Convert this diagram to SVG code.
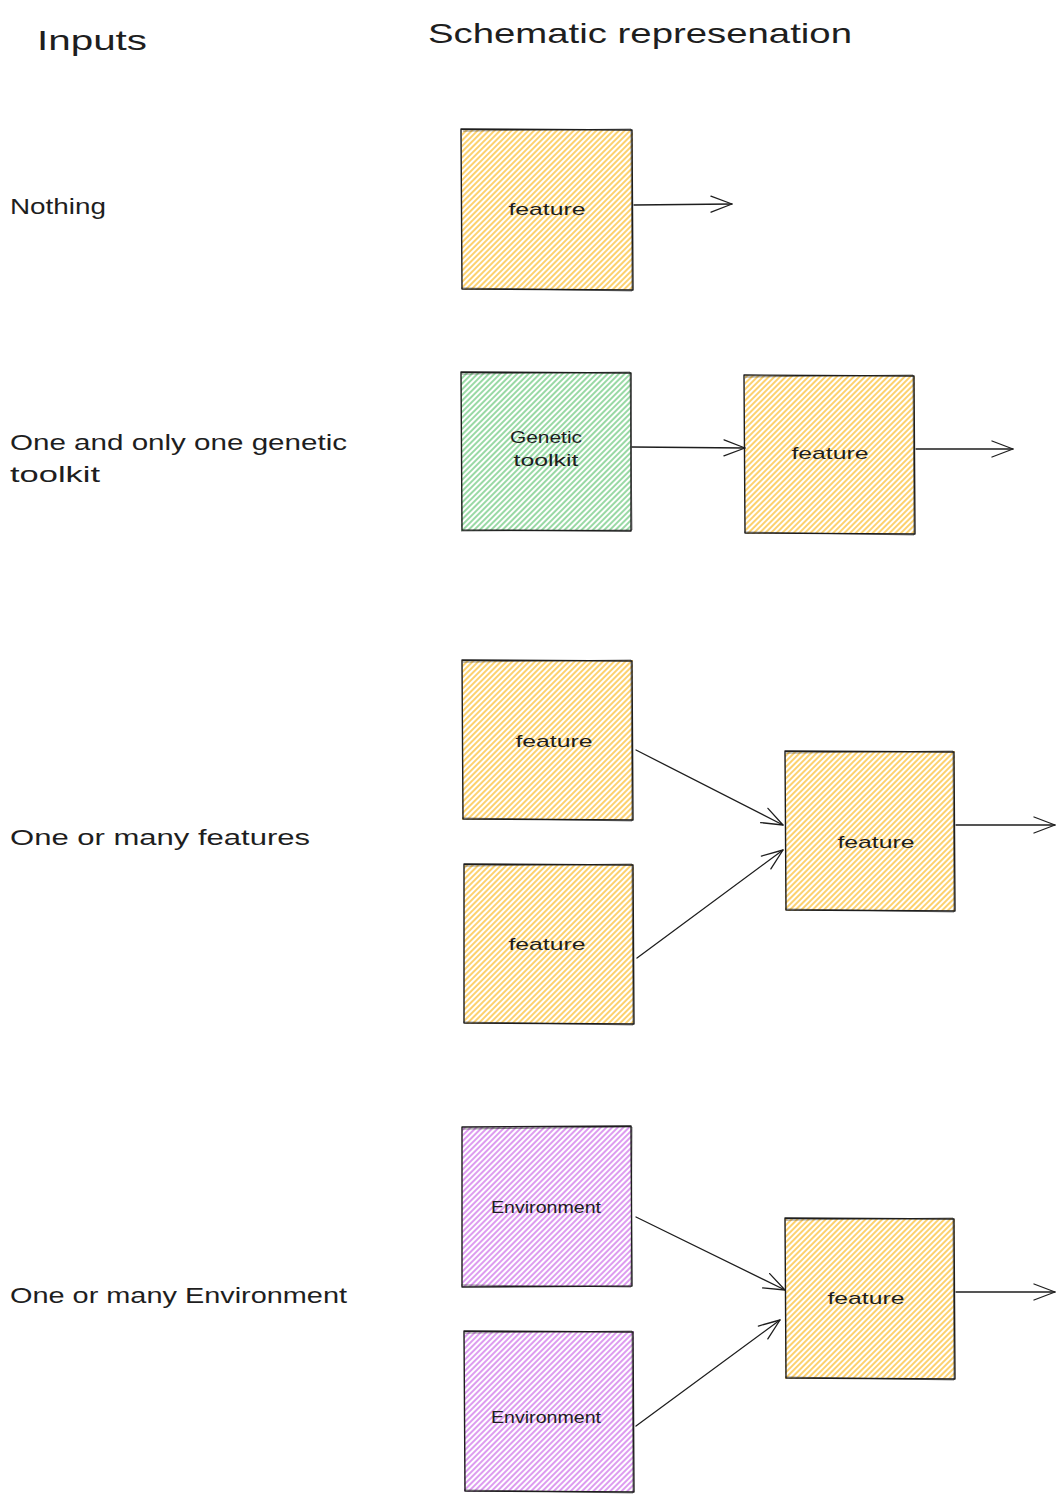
<svg xmlns="http://www.w3.org/2000/svg" width="1064" height="1500" viewBox="0 0 1064 1500">
  <defs>
    <!-- hachure fills, one per colour -->
    <pattern id="hatch-yellow" patternUnits="userSpaceOnUse" width="4" height="4" patternTransform="rotate(-45)">
      <line x1="0" y1="2" x2="4" y2="2" stroke="#fbc54a" stroke-width="1.6"/>
    </pattern>
    <pattern id="hatch-green" patternUnits="userSpaceOnUse" width="4" height="4" patternTransform="rotate(-45)">
      <line x1="0" y1="2" x2="4" y2="2" stroke="#7fd08e" stroke-width="1.6"/>
    </pattern>
    <pattern id="hatch-purple" patternUnits="userSpaceOnUse" width="4" height="4" patternTransform="rotate(-45)">
      <line x1="0" y1="2" x2="4" y2="2" stroke="#d583ec" stroke-width="1.6"/>
    </pattern>
    <marker id="arrow" viewBox="0 0 24 20" refX="22" refY="10" markerWidth="24" markerHeight="20" markerUnits="userSpaceOnUse" orient="auto">
      <path d="M1 2 L22 10 L1 18" fill="none" stroke="#1e1e1e" stroke-width="1.3" stroke-linecap="round" stroke-linejoin="round"/>
    </marker>
  </defs>
  <style>
    .title { font-family: "Liberation Sans", Arial, sans-serif; font-size: 28px; fill: #1e1e1e; }
    .label { font-family: "Liberation Sans", Arial, sans-serif; font-size: 22px; fill: #1e1e1e; }
    .inner { font-family: "Liberation Sans", Arial, sans-serif; font-size: 17px; fill: #1e1e1e; text-anchor: middle; }
    .edge { fill: none; stroke: #1e1e1e; stroke-width: 1.3; stroke-linecap: round; }
    .box { stroke: none; }
    .outline { fill: none; stroke: #1e1e1e; stroke-width: 1.4; stroke-linejoin: round; }
    .outline2 { fill: none; stroke: #1e1e1e; stroke-width: 0.8; opacity: 0.7; }
  </style>

  <rect width="1064" height="1500" fill="#ffffff"/>

  <!-- column headings and row labels -->
  <g id="headings">
    <text class="title" x="37" y="50" textLength="110" lengthAdjust="spacingAndGlyphs">Inputs</text>
    <text class="title" x="428" y="43" textLength="424" lengthAdjust="spacingAndGlyphs">Schematic represenation</text>
  </g>
  <g id="row-labels">
    <text class="label" x="10" y="214" textLength="96" lengthAdjust="spacingAndGlyphs">Nothing</text>
    <text class="label" x="10" y="450" textLength="337" lengthAdjust="spacingAndGlyphs">One and only one genetic</text>
    <text class="label" x="10" y="482" textLength="90" lengthAdjust="spacingAndGlyphs">toolkit</text>
    <text class="label" x="10" y="845" textLength="300" lengthAdjust="spacingAndGlyphs">One or many features</text>
    <text class="label" x="10" y="1303" textLength="337" lengthAdjust="spacingAndGlyphs">One or many Environment</text>
  </g>

  <!-- row 1 -->
  <g id="feature-1">
    <rect class="box" x="462" y="130" width="171" height="160" fill="url(#hatch-yellow)"/>
    <path class="outline" d="M461 129 L632 130 L633 290 L462 289 Z"/>
    <path class="outline2" d="M463 131 L631 129 L632 291 L461 288"/>
    <text class="inner" x="547" y="215" textLength="77" lengthAdjust="spacingAndGlyphs">feature</text>
  </g>

  <!-- row 2 -->
  <g id="toolkit-2">
    <rect class="box" x="461" y="372" width="170" height="159" fill="url(#hatch-green)"/>
    <path class="outline" d="M461 372 L631 373 L631 531 L462 530 Z"/>
    <path class="outline2" d="M462 374 L630 372 L632 530 L461 531"/>
    <text class="inner" x="546" y="443" textLength="72" lengthAdjust="spacingAndGlyphs">Genetic</text>
    <text class="inner" x="546" y="466" textLength="65" lengthAdjust="spacingAndGlyphs">toolkit</text>
  </g>
  <g id="feature-2">
    <rect class="box" x="745" y="375" width="170" height="159" fill="url(#hatch-yellow)"/>
    <path class="outline" d="M744 375 L914 376 L915 534 L745 533 Z"/>
    <path class="outline2" d="M745 377 L913 375 L914 535 L744 532"/>
    <text class="inner" x="830" y="459" textLength="77" lengthAdjust="spacingAndGlyphs">feature</text>
  </g>

  <!-- row 3 -->
  <g id="feature-3a">
    <rect class="box" x="462" y="660" width="171" height="160" fill="url(#hatch-yellow)"/>
    <path class="outline" d="M462 660 L632 661 L633 820 L463 819 Z"/>
    <path class="outline2" d="M463 662 L631 660 L632 821 L462 818"/>
    <text class="inner" x="554" y="747" textLength="77" lengthAdjust="spacingAndGlyphs">feature</text>
  </g>
  <g id="feature-3b">
    <rect class="box" x="464" y="864" width="170" height="160" fill="url(#hatch-yellow)"/>
    <path class="outline" d="M464 864 L633 865 L634 1024 L464 1023 Z"/>
    <path class="outline2" d="M465 866 L632 864 L633 1025 L463 1022"/>
    <text class="inner" x="547" y="950" textLength="77" lengthAdjust="spacingAndGlyphs">feature</text>
  </g>
  <g id="feature-3c">
    <rect class="box" x="785" y="751" width="170" height="160" fill="url(#hatch-yellow)"/>
    <path class="outline" d="M785 751 L954 752 L955 911 L786 910 Z"/>
    <path class="outline2" d="M786 753 L953 751 L954 912 L785 909"/>
    <text class="inner" x="876" y="848" textLength="77" lengthAdjust="spacingAndGlyphs">feature</text>
  </g>

  <!-- row 4 -->
  <g id="environment-4a">
    <rect class="box" x="462" y="1127" width="170" height="160" fill="url(#hatch-purple)"/>
    <path class="outline" d="M462 1127 L631 1126 L632 1286 L462 1287 Z"/>
    <path class="outline2" d="M463 1129 L632 1127 L631 1287 L461 1285"/>
    <text class="inner" x="546" y="1213" textLength="110" lengthAdjust="spacingAndGlyphs">Environment</text>
  </g>
  <g id="environment-4b">
    <rect class="box" x="464" y="1331" width="170" height="161" fill="url(#hatch-purple)"/>
    <path class="outline" d="M464 1331 L633 1332 L634 1492 L465 1491 Z"/>
    <path class="outline2" d="M465 1333 L632 1331 L633 1493 L464 1490"/>
    <text class="inner" x="546" y="1423" textLength="110" lengthAdjust="spacingAndGlyphs">Environment</text>
  </g>
  <g id="feature-4c">
    <rect class="box" x="785" y="1218" width="170" height="161" fill="url(#hatch-yellow)"/>
    <path class="outline" d="M785 1218 L954 1219 L955 1379 L786 1378 Z"/>
    <path class="outline2" d="M786 1220 L953 1218 L954 1380 L785 1377"/>
    <text class="inner" x="866" y="1304" textLength="77" lengthAdjust="spacingAndGlyphs">feature</text>
  </g>

  <!-- connectors -->
  <g id="connectors">
    <path class="edge" d="M634 205 L732 204" marker-end="url(#arrow)"/>
    <path class="edge" d="M632 447 L745 448" marker-end="url(#arrow)"/>
    <path class="edge" d="M916 449 L1013 449" marker-end="url(#arrow)"/>
    <path class="edge" d="M636 750 L783 825" marker-end="url(#arrow)"/>
    <path class="edge" d="M637 958 L783 850" marker-end="url(#arrow)"/>
    <path class="edge" d="M956 825 L1055 825" marker-end="url(#arrow)"/>
    <path class="edge" d="M636 1217 L785 1290" marker-end="url(#arrow)"/>
    <path class="edge" d="M636 1426 L780 1320" marker-end="url(#arrow)"/>
    <path class="edge" d="M956 1292 L1055 1292" marker-end="url(#arrow)"/>
  </g>
</svg>
